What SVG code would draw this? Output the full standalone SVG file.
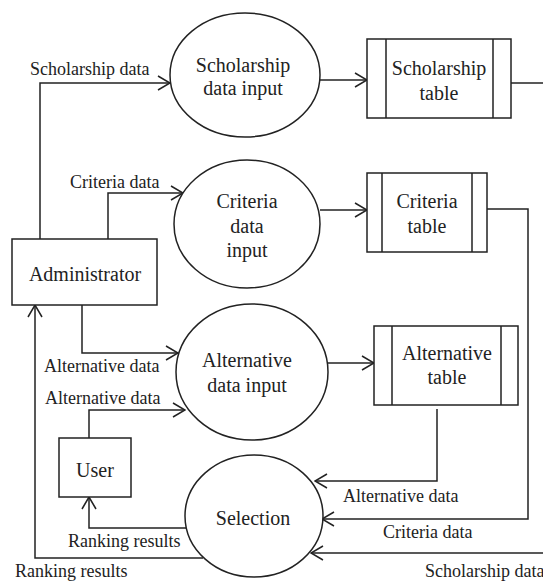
<svg xmlns="http://www.w3.org/2000/svg" width="543" height="581" viewBox="0 0 543 581">
<defs>
<style>
.s{fill:#fff;stroke:#222;stroke-width:1.5}
.l{fill:none;stroke:#222;stroke-width:1.5}
.n{font-family:"Liberation Serif","Times New Roman",serif;font-size:20px;fill:#222;text-anchor:middle}
.t{font-family:"Liberation Serif","Times New Roman",serif;font-size:18px;fill:#222}
</style>
<marker id="a" viewBox="0 0 14 16" refX="13" refY="8" markerWidth="14" markerHeight="16" markerUnits="userSpaceOnUse" orient="auto">
<path d="M1,1 L13,8 L1,15" fill="none" stroke="#222" stroke-width="1.5"/>
</marker>
</defs>
<rect width="543" height="581" fill="#fff"/>
<g id="connectors">
<path class="l" d="M40,239 V83 H170" marker-end="url(#a)"/>
<path class="l" d="M320,80 H367" marker-end="url(#a)"/>
<path class="l" d="M511,83 H543"/>
<path class="l" d="M108,239 V193 H183" marker-end="url(#a)"/>
<path class="l" d="M320,210 H367" marker-end="url(#a)"/>
<path class="l" d="M487,209 H528 V519 H322" marker-end="url(#a)"/>
<path class="l" d="M82,305 V353 H178" marker-end="url(#a)"/>
<path class="l" d="M328,363 H374" marker-end="url(#a)"/>
<path class="l" d="M437,409 V481 H315" marker-end="url(#a)"/>
<path class="l" d="M89,438 V410 H185" marker-end="url(#a)"/>
<path class="l" d="M186,528 H89 V497" marker-end="url(#a)"/>
<path class="l" d="M203,558 H35 V305" marker-end="url(#a)"/>
<path class="l" d="M543,553 H311" marker-end="url(#a)"/>
<text class="t" x="30" y="75">Scholarship data</text>
<text class="t" x="70" y="188">Criteria data</text>
<text class="t" x="44" y="372">Alternative data</text>
<text class="t" x="45" y="404">Alternative data</text>
<text class="t" x="343" y="502">Alternative data</text>
<text class="t" x="383" y="538">Criteria data</text>
<text class="t" x="68" y="547">Ranking results</text>
<text class="t" x="15" y="577">Ranking results</text>
<text class="t" x="425" y="577">Scholarship data</text>
</g>
<g id="scholarship-input">
<ellipse class="s" cx="245" cy="75" rx="75" ry="62"/>
<text class="n" x="243" y="72">Scholarship</text>
<text class="n" x="243" y="95">data input</text>
</g>
<g id="scholarship-table">
<rect class="s" x="367" y="39" width="144" height="79"/>
<path class="l" d="M386,39 V118 M493,39 V118"/>
<text class="n" x="439" y="75">Scholarship</text>
<text class="n" x="439" y="100">table</text>
</g>
<g id="criteria-input">
<ellipse class="s" cx="247" cy="224" rx="73" ry="64"/>
<text class="n" x="247" y="208">Criteria</text>
<text class="n" x="247" y="233">data</text>
<text class="n" x="247" y="257">input</text>
</g>
<g id="criteria-table">
<rect class="s" x="367" y="173" width="120" height="79"/>
<path class="l" d="M382,173 V252 M472,173 V252"/>
<text class="n" x="427" y="208">Criteria</text>
<text class="n" x="427" y="233">table</text>
</g>
<g id="administrator">
<rect class="s" x="12" y="239" width="145" height="66"/>
<text class="n" x="85" y="281">Administrator</text>
</g>
<g id="alternative-input">
<ellipse class="s" cx="252" cy="372" rx="76" ry="68"/>
<text class="n" x="247" y="367">Alternative</text>
<text class="n" x="247" y="392">data input</text>
</g>
<g id="alternative-table">
<rect class="s" x="374" y="326" width="144" height="79"/>
<path class="l" d="M392,326 V405 M501,326 V405"/>
<text class="n" x="447" y="360">Alternative</text>
<text class="n" x="447" y="384">table</text>
</g>
<g id="user">
<rect class="s" x="59" y="438" width="72" height="59"/>
<text class="n" x="95" y="477">User</text>
</g>
<g id="selection">
<ellipse class="s" cx="254" cy="516" rx="69" ry="61"/>
<text class="n" x="253" y="525">Selection</text>
</g>
</svg>
